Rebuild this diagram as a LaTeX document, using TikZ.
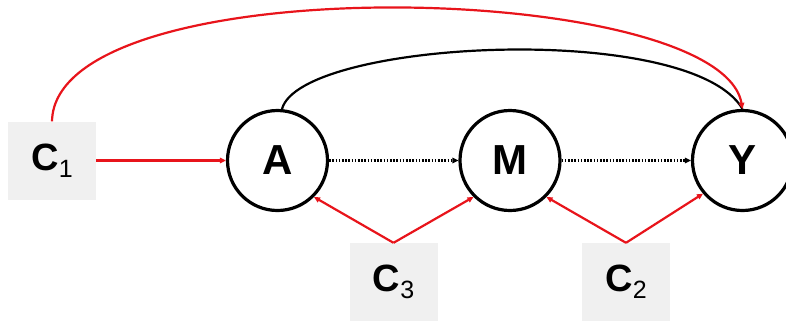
\documentclass[tikz,border=0pt]{standalone}
\usepackage{fontspec}
\setmainfont{Liberation Sans}
\usetikzlibrary{arrows.meta}
\definecolor{boxgray}{HTML}{F0F0F0}
\definecolor{myred}{HTML}{E8141B}
\newcommand{\clab}[1]{{\fontsize{38}{38}\selectfont\bfseries C}\raisebox{-7pt}{\fontsize{25}{25}\selectfont #1}}
\begin{document}
\begin{tikzpicture}[x=1pt,y=-1pt,
  var/.style={circle,draw=black,line width=3.2pt,minimum size=100pt,inner sep=0pt,
    font=\fontsize{42}{42}\selectfont\bfseries},
  conf/.style={fill=boxgray,draw=none,minimum width=88pt,minimum height=78pt,inner sep=0pt},
  redarr/.style={draw=myred,line width=2.2pt,-{Triangle[length=6pt,width=5.5pt]}},
  dotarr/.style={draw=black,line width=2.2pt,dash pattern=on 1.6pt off 1.6pt,-{Triangle[length=6pt,width=5.5pt]}},
  blackarc/.style={draw=black,line width=2.2pt}]
\useasboundingbox (0,0) rectangle (786,322);
\node[var] (A) at (277.5,160.5) {A};
\node[var] (M) at (510,160.5) {M};
\node[var] (Y) at (742.5,160.5) {Y};
\node[conf] (C1) at (52,160.5) {\clab{1}};
\node[conf] (C3) at (393.5,282) {\clab{3}};
\node[conf] (C2) at (626,282) {\clab{2}};
\draw[redarr] (C1.east) -- (A.west);
\draw[dotarr] (A.east) -- (M.west);
\draw[dotarr] (M.east) -- (Y.west);
\draw[redarr] (C3.north) -- (A.-45);
\draw[redarr] (C3.north) -- (M.-135);
\draw[redarr] (C2.north) -- (M.-45);
\draw[redarr] (C2.north) -- (Y.-140);
\draw[blackarc] (A.85) .. controls (300,40) and (690,20) .. (Y.north);
\draw[redarr] (C1.north) .. controls (55,-35) and (720,-20) .. (Y.north);
\end{tikzpicture}
\end{document}
